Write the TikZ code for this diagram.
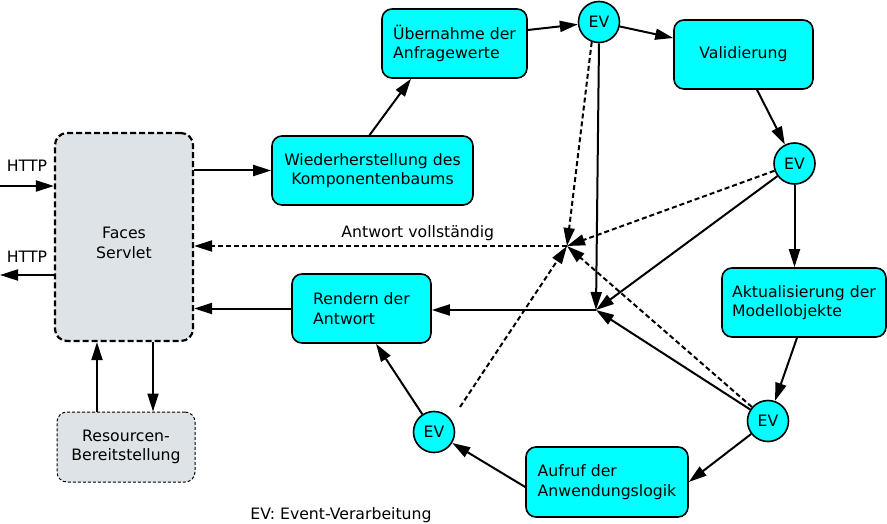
\documentclass[tikz,border=0pt]{standalone}
\usepackage{fontspec}
\setmainfont{DejaVu Sans}
\usetikzlibrary{arrows.meta,calc}
\definecolor{servletgray}{RGB}{221,227,230}
\definecolor{phasecyan}{RGB}{0,255,255}
\tikzset{
  lbl/.style={font=\fontsize{15.7}{19.5}\selectfont},
  phase/.style={lbl, draw, line width=1.6pt, fill=phasecyan, rounded corners=10pt, minimum height=69pt, inner sep=0pt},
  event/.style={lbl, draw, circle, line width=1.6pt, fill=phasecyan, minimum size=41pt, inner sep=0pt},
  servlet/.style={lbl, draw, line width=2.2pt, dash pattern=on 6pt off 3pt, fill=servletgray, rounded corners=12pt, align=center},
  resource/.style={lbl, draw, line width=1pt, dash pattern=on 3pt off 2pt, fill=servletgray, rounded corners=10pt, align=center},
  flow/.style={line width=2pt, -{Triangle[length=18pt,width=11pt]}},
  dflow/.style={flow, dash pattern=on 5pt off 3pt},
}

\begin{document}
\begin{tikzpicture}[x=1pt,y=-1pt]
		%%%%% START %%%%%
		\useasboundingbox (0,0) rectangle (887,524);

		\node[servlet, minimum width=138pt, minimum height=208pt,
		  label={[lbl, align=center, yshift=-6pt]center:Faces\\Servlet}] (faces) at (124,237) {};
		\node[resource, minimum width=138pt, minimum height=70pt] (resourcen) at (126,447) {Resourcen-\\Bereitstellung};

		\node[phase, minimum width=201pt, align=center] (wieder) at (372.5,170.5) {Wiederherstellung des\\Komponentenbaums};
		\node[phase, minimum width=145pt, align=left] (uebern) at (454.5,43.5) {Übernahme der\\Anfragewerte};
		\node[phase, minimum width=139pt] (valid) at (743.5,54.5) {Validierung};
		\node[phase, minimum width=164pt, align=left] (aktual) at (804,302.5) {Aktualisierung der\\Modellobjekte};
		\node[phase, minimum width=162pt, minimum height=70pt, align=left] (aufruf) at (607,482) {Aufruf der\\Anwendungslogik};
		\node[phase, minimum width=139pt, align=left] (rendern) at (361.5,308.5) {Rendern der\\Antwort};

		\node[event] (ev1) at (599,22) {EV};
		\node[event] (ev2) at (794.5,163.5) {EV};
		\node[event] (ev3) at (768,421) {EV};
		\node[event] (ev4) at (434,432) {EV};

		\coordinate (dj) at (567,246);
		\coordinate (sj) at (596,310);
		\coordinate (httpin) at (0,186);
		\coordinate (httpout) at (0,275);

		% HTTP
		\draw[flow] (httpin) -- (httpin -| faces.west);
		\draw[flow] (faces.west |- httpout) -- (httpout);
		\node[lbl] (httpinlbl) at (27,166) {HTTP};
		\node[lbl] (httpoutlbl) at (27,257) {HTTP};

		% servlet and resources
		\draw[flow] ([xshift=29pt]faces.south) -- ([xshift=29pt]faces.south |- resourcen.north);
		\draw[flow] ([xshift=-27pt]faces.south |- resourcen.north) -- ([xshift=-27pt]faces.south);

		% main cycle
		\draw[flow] (faces.east |- wieder.west) -- (wieder.west);
		\draw[flow] ([xshift=-3pt]wieder.north) -- ([xshift=-43.5pt]uebern.south);
		\draw[flow] ([yshift=13.5pt]uebern.east) -- (ev1);
		\draw[flow] (ev1) -- ([yshift=16.5pt]valid.west);
		\draw[flow] ([xshift=13.5pt]valid.south) -- (ev2);
		\draw[flow] (ev2.south) -- (ev2.south |- aktual.north);
		\draw[flow] ([xshift=-7pt]aktual.south) -- (ev3);
		\draw[flow] (ev3) -- (aufruf.east);
		\draw[flow] ([yshift=-5pt]aufruf.west) -- (ev4);
		\draw[flow] (ev4) -- ([xshift=14.5pt]rendern.south);
		\draw[flow] (rendern.west) -- (faces.east |- rendern.west);

		% shortcut to rendering
		\draw[flow] (ev1.south) -- (sj);
		\draw[flow] (ev2) -- (sj);
		\draw[flow] (ev3) -- (sj);
		\draw[flow] (sj) -- (rendern.east |- sj);

		% response complete
		\draw[dflow] (ev1.-110) -- (dj);
		\draw[dflow] (ev2) -- (dj);
		\draw[dflow] (ev3) -- (dj);
		\draw[dflow] ([xshift=26pt,yshift=25pt]ev4.center) -- (dj);
		\draw[dflow] (dj) -- (faces.east |- dj) node[lbl, pos=0.4, above=1pt] (done) {Antwort vollständig};

		\node[lbl] (legend) at (341,515) {EV: Event-Verarbeitung};
		%%%%% END %%%%%
\end{tikzpicture}
\end{document}
